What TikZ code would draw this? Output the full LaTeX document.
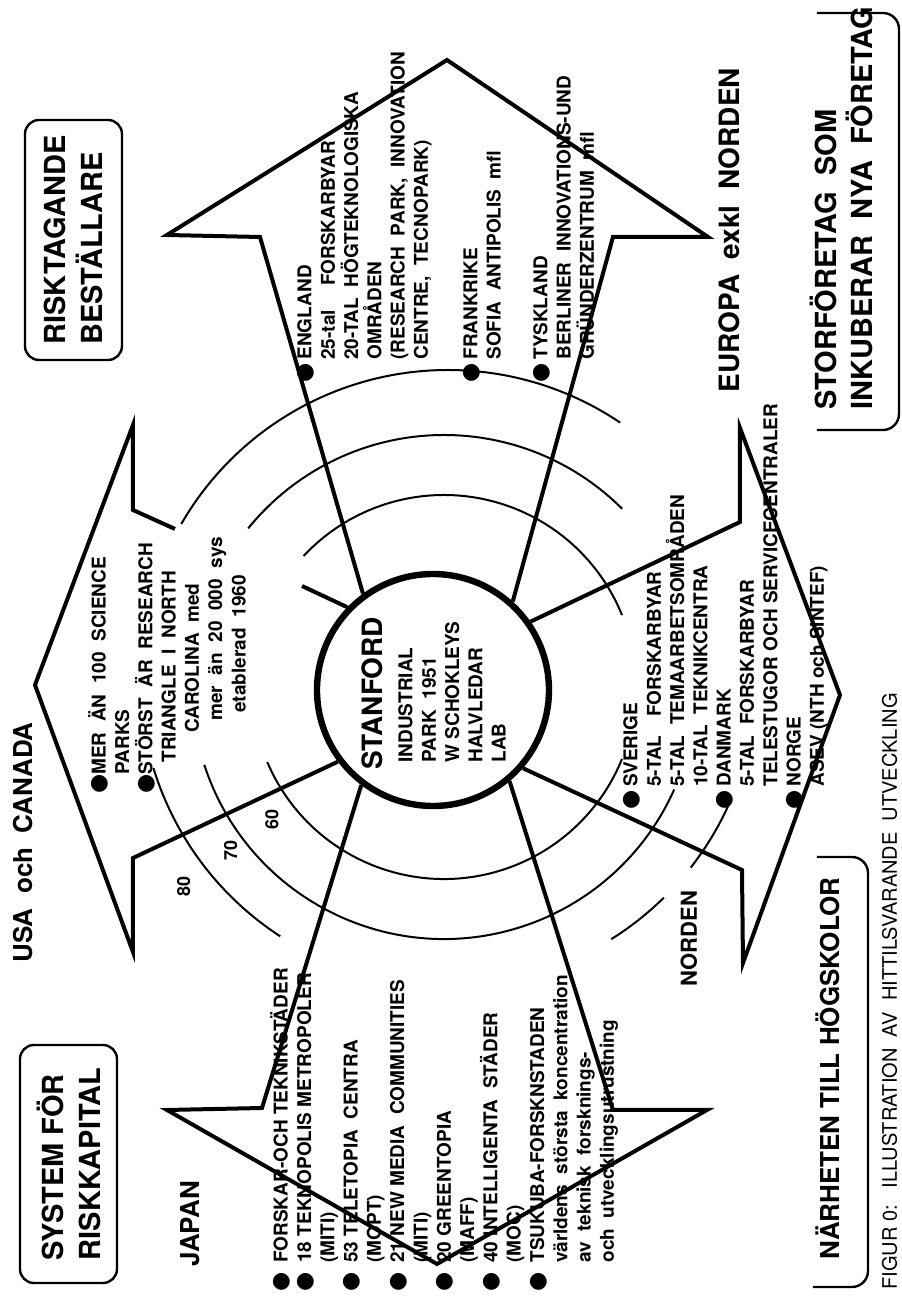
\documentclass[tikz,border=0pt]{standalone}
\usepackage{fontspec}
\setmainfont{TeX Gyre Heros}
\newfontfamily\dotfont{DejaVu Sans}
\newcommand{\blt}{{\dotfont\fontsize{11}{11}\selectfont ●}}
\usetikzlibrary{
    positioning,
    calc
}
\tikzset{
  outline/.style = {line width=2pt, line join=miter},
  ring/.style    = {line width=1pt},
  lst/.style     = {anchor=north west, inner sep=0pt, align=left,
                    font=\fontsize{9.5}{11.65}\selectfont\bfseries},
  head/.style    = {anchor=base west, inner sep=0pt,
                    font=\fontsize{13}{16}\selectfont\bfseries},
  tagbox/.style  = {draw, rounded corners=7pt, line width=1.2pt, align=left,
                    font=\fontsize{14.5}{18.5}\selectfont\bfseries},
  tagline/.style = {line width=1.2pt, rounded corners=8pt},
  yr/.style      = {inner sep=1pt, font=\fontsize{9}{9}\selectfont\bfseries}
}

\begin{document}
\begin{tikzpicture}[x=0.5pt, y=0.5pt, rotate=90, transform shape]
\fill[white] (0,0) rectangle (1297,901);
\useasboundingbox (0,0) rectangle (1297,901);
\coordinate (ctr) at (610,457);
\coordinate (ctrout) at (619,453);

% centre
\node[circle, draw, line width=3.2pt, minimum size=116pt, inner sep=0pt] (stanford) at (607,468) {};
\node[anchor=base west, inner sep=0pt, font=\fontsize{14}{14}\selectfont\bfseries]
    (stanfordname) at (527,518) {STANFORD};
\node[lst] (stanfordtxt) at (534,503)
    {INDUSTRIAL\\PARK\ \ 1951\\W SCHOKLEYS\\HALVLEDAR\\LAB};

% rings 60/70/80
\foreach \c/\r/\a/\b in {ctr/192/47/-68, ctr/192/113/248,
                         ctr/252/51/-45, ctr/252/108/246,
                         ctrout/308/60/-34, ctrout/308/107/147,
                         ctrout/308/212/224.5, ctrout/308/232/246}
  \draw[ring] (\c) ++(\a:\r) arc[start angle=\a, end angle=\b, radius=\r];
\foreach \r/\yr in {217/60, 269/70, 328/80}
  \path (ctr) ++(127.5:\r) node[yr] {\yr};

% the four arrows
\draw[outline] (stanford.46) -- (711,599);
\draw[outline] (768,726) -- (787,768) -- (872,768) -- (612,866)
    -- (345,768) -- (439,768) -- (stanford.127);
\draw[outline] (stanford.36) -- (1060,641) -- (1062,734) -- (1237,454)
    -- (1060,193) -- (1060,288) -- (stanford.-42);
\draw[outline] (stanford.-55) -- (775,161) -- (869,161) -- (602,61)
    -- (334,158) -- (427,159) -- (stanford.-131);
\draw[outline] (stanford.143) -- (189,639) -- (187,734) -- (33,464)
    -- (187,194) -- (187,288) -- (stanford.-140);

% lists
\node[lst] (usalist) at (522,813) {%
  \llap{\blt}MER\ \ ÄN\ \ 100\ \ SCIENCE\\
  PARKS\\
  \llap{\blt}STÖRST\ \ ÄR\ \ RESEARCH\\
  \hspace*{6pt}TRIANGLE\ \ I\ \ NORTH\\
  \hspace*{21pt}CAROLINA\ \ med\\
  \hspace*{27pt}mer\ \ än\ \ 20\ \ 000\ \ sys\\
  \hspace*{31pt}etablerad\ \ 1960};
\node[lst] (europalist) at (937,604) {%
  \llap{\blt\hspace{2pt}}ENGLAND\\
  25-tal\quad\ FORSKARBYAR\\
  20-TAL\ \ HÖGTEKNOLOGISKA\\
  OMRÅDEN\\
  (RESEARCH\ \ PARK,\ \ INNOVATION\\
  CENTRE,\ \ TECNOPARK)\\[13pt]
  \llap{\blt\hspace{2pt}}FRANKRIKE\\
  SOFIA\ \ ANTIPOLIS\ \ mfl\\[11.7pt]
  \llap{\blt\hspace{2pt}}TYSKLAND\\
  BERLINER\ \ INNOVATIONS-UND\\
  GRÜNDERZENTRUM\ \ mfl};
\node[lst] (nordenlist) at (510,278) {%
  \llap{\blt\hspace{2pt}}SVERIGE\\
  5-TAL\quad FORSKARBYAR\\
  5-TAL\ \ TEMAARBETSOMRÅDEN\\
  10-TAL\ \ TEKNIKCENTRA\\
  \llap{\blt\hspace{2pt}}DANMARK\\
  5-TAL\ \ FORSKARBYAR\\
  TELESTUGOR OCH SERVICECENTRALER\\
  \llap{\blt\hspace{2pt}}NORGE\\
  ASEV (NTH och SINTEF)};
\node[lst] (japanlist) at (34,631) {%
  \llap{\blt\hspace{5pt}}FORSKAR-OCH TEKNIKSTÄDER\\
  \llap{\blt\hspace{5pt}}18 TEKNOPOLIS METROPOLER\\
  (MITI)\\
  \llap{\blt\hspace{5pt}}53 TELETOPIA\ \ CENTRA\\
  (MOPT)\\
  \llap{\blt\hspace{5pt}}21 NEW MEDIA\ \ COMMUNITIES\\
  (MITI)\\
  \llap{\blt\hspace{5pt}}20 GREENTOPIA\\
  (MAFF)\\
  \llap{\blt\hspace{5pt}}40 INTELLIGENTA\ \ STÄDER\\
  (MOC)\\
  \llap{\blt\hspace{5pt}}TSUKUBA-FORSKNSTADEN\\
  världens\ \ största\ \ koncentration\\
  av\ \ teknisk\ \ forsknings-\\
  och\ \ utvecklingsutrustning};

% headings
\node[head] (usa) at (334,868) {USA\ \ och\ \ CANADA};
\node[head] (japan) at (30,701) {JAPAN};
\node[head, font=\fontsize{11}{11}\selectfont\bfseries] (norden) at (310,204) {NORDEN};
\node[head, font=\fontsize{14}{14}\selectfont\bfseries] (europa) at (904,161)
    {EUROPA\ \ exkl\ \ NORDEN};
\node[tagbox, minimum width=119pt, minimum height=48.5pt] (sysbox) at (133,832.5)
    {SYSTEM FÖR\\RISKKAPITAL};
\node[tagbox, minimum width=120pt, minimum height=48.5pt] (riskbox) at (1057,827.5)
    {RISKTAGANDE\\BESTÄLLARE};
\node[lst, font=\fontsize{14.5}{18}\selectfont\bfseries] (storf) at (887,91)
    {STORFÖRETAG\ \ SOM\\INKUBERAR\ \ NYA\ \ FÖRETAG};
\draw[tagline] (867,84) -- (867,2) -- (1284,2) -- (1284,84);
\node[head] (narhet) at (37,61) {NÄRHETEN TILL HÖGSKOLOR};
\draw[tagline] (10,88) -- (10,33) -- (440,33) -- (440,84);
\node[head, font=\fontsize{10}{10}\selectfont\mdseries] (figur) at (7,4)
    {FIGUR 0:\ \ \ ILLUSTRATION\ \ AV\ \ HITTILSVARANDE\ \ UTVECKLING};
\end{tikzpicture}
\end{document}
